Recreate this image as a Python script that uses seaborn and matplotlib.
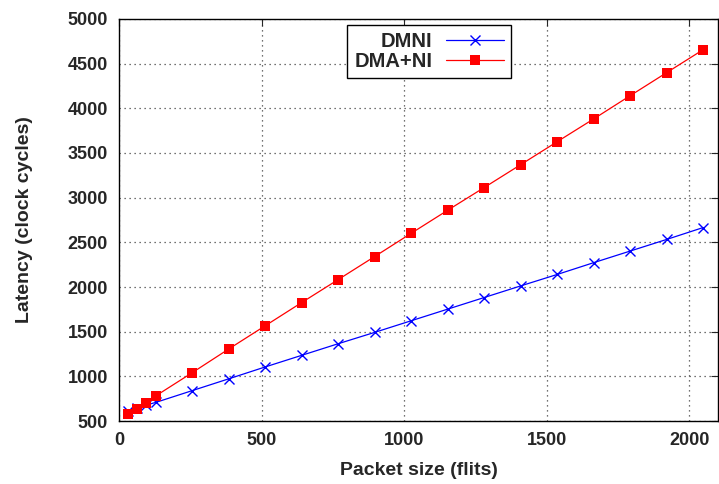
import pandas as pd
import matplotlib.pyplot as plt
import seaborn as sns

# packet sizes (flits) and measured latencies (clock cycles)
packet_size = [32, 64, 96, 128, 256, 384, 512, 640, 768, 896, 1024,
               1152, 1280, 1408, 1536, 1664, 1792, 1920, 2048]
dmni = [615, 648, 680, 708, 840, 972, 1105, 1235, 1365, 1492, 1622,
        1752, 1882, 2012, 2140, 2272, 2402, 2532, 2665]
dma_ni = [582, 640, 705, 780, 1040, 1305, 1565, 1825, 2082, 2340, 2600,
          2858, 3112, 3368, 3625, 3880, 4140, 4398, 4655]

x_ticks = [0, 500, 1000, 1500, 2000]
y_ticks = [500, 1000, 1500, 2000, 2500, 3000, 3500, 4000, 4500, 5000]

df = pd.DataFrame({"size": packet_size, "DMNI": dmni, "DMA+NI": dma_ni})

sns.set_style("white")
plt.rcParams["font.family"] = ["Liberation Sans", "DejaVu Sans"]
plt.rcParams["font.weight"] = "bold"

fig = plt.figure(figsize=(7.19, 4.84), dpi=100)
ax = fig.add_axes([0.1655, 0.130, 0.833, 0.831])

sns.lineplot(data=df, x="size", y="DMNI", ax=ax, color="blue", lw=0.9,
             marker="x", markersize=7, markeredgewidth=1.0,
             markeredgecolor="blue", label="DMNI")
sns.lineplot(data=df, x="size", y="DMA+NI", ax=ax, color="red", lw=0.9,
             marker="s", markersize=7, markeredgewidth=0,
             markerfacecolor="red", label="DMA+NI")

ax.set_xlim(0, 2100)
ax.set_ylim(500, 5000)
ax.set_xticks(x_ticks)
ax.set_yticks(y_ticks)
ax.grid(True, linestyle=(0, (1, 3)), color="#444444", lw=0.9)
for s in ax.spines.values():
    s.set_color("black")
    s.set_linewidth(1.0)
ax.tick_params(direction="in", length=5, width=0.8, top=True, right=True,
               labelsize=13, pad=8)
for t in ax.get_xticklabels() + ax.get_yticklabels():
    t.set_fontweight("bold")

ax.set_xlabel("Packet size (flits)", fontsize=14, fontweight="bold", labelpad=9)
ax.set_ylabel("Latency (clock cycles)", fontsize=14, fontweight="bold", labelpad=25)

leg = ax.legend(loc="upper right", bbox_to_anchor=(0.654, 0.985), markerfirst=False,
                fontsize=14.5, frameon=True, fancybox=False, edgecolor="black",
                framealpha=1, handlelength=2.85, handletextpad=0.7,
                borderpad=0.35, borderaxespad=0, labelspacing=0.05)
leg.get_frame().set_linewidth(1.0)
for t in leg.get_texts():
    t.set_ha("right")
    t.set_fontweight("bold")

fig.savefig("out.png", dpi=100)
